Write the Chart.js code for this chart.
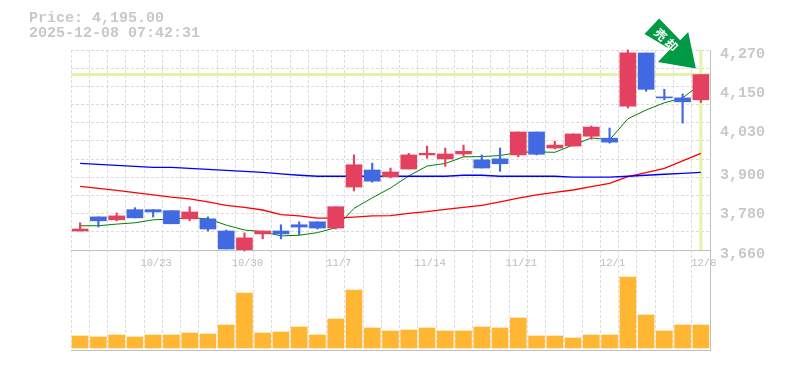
<!DOCTYPE html>
<html>
<head>
<meta charset="utf-8">
<script src="https://cdn.jsdelivr.net/npm/chart.js@4/dist/chart.umd.js"></script>
<style>
  html, body { margin: 0; padding: 0; background: #fff; }
  #wrap { position: relative; width: 785px; height: 370px; overflow: hidden; }
  canvas { position: absolute; left: 0; top: 0; }
  #title { position: absolute; left: 29px; top: 11px; font: bold 15px/15px "Liberation Mono", monospace; color: #c8c8c8; white-space: pre; }
</style>
</head>
<body>
<div id="wrap">
  <canvas id="vol-chart" width="785" height="370"></canvas>
  <canvas id="price-chart" width="785" height="370"></canvas>
  <div id="title">Price: 4,195.00
2025-12-08 07:42:31</div>
</div>
<script>
  const categories = ['10/17','10/20','10/21','10/22','10/23','10/24','10/27','10/28','10/29','10/30','10/31','11/4','11/5','11/6','11/7','11/10','11/11','11/12','11/13','11/14','11/17','11/18','11/19','11/20','11/21','11/25','11/26','11/27','11/28','12/1','12/2','12/3','12/4','12/5','12/8'];
  const tickLabels = ['10/23','10/30','11/7','11/14','11/21','12/1','12/8'];
  const priceTicks = [4270, 4150, 4030, 3900, 3780, 3660];
  const lastPrice = 4195;

  const opens  = [3718,3761,3752,3783,3783,3780,3755,3755,3718,3660,3709,3718,3737,3746,3727,3852,3904,3883,3907,3950,3938,3953,3935,3938,3950,4020,3971,3977,4007,4001,4099,4261,4127,4124,4118];
  const highs  = [3743,3761,3773,3789,3783,3780,3792,3761,3721,3712,3718,3737,3746,3746,3792,3950,3925,3910,3955,3977,3971,3980,3950,3971,4020,4020,3992,4014,4038,4032,4270,4261,4150,4136,4195];
  const lows   = [3718,3730,3749,3758,3761,3740,3749,3718,3663,3657,3694,3694,3706,3724,3724,3840,3867,3880,3907,3940,3915,3946,3910,3900,3944,3950,3968,3977,3998,3986,4093,4144,4118,4047,4110];
  const closes = [3724,3749,3764,3758,3776,3740,3776,3724,3663,3697,3718,3709,3730,3727,3792,3920,3870,3898,3950,3955,3953,3961,3910,3923,4020,3952,3980,4014,4035,3989,4261,4150,4124,4112,4195];

  const maShort = [3734,3734,3739,3743,3752,3754,3758,3755,3736,3721,3716,3703,3705,3713,3728,3787,3819,3849,3886,3916,3924,3944,3945,3948,3958,3959,3958,3980,4002,3996,4060,4087,4109,4124,4166];
  const maMid   = [3854,3848,3842,3835,3828,3821,3816,3807,3796,3790,3782,3768,3764,3757,3757,3760,3764,3765,3772,3777,3784,3790,3796,3807,3818,3828,3836,3843,3853,3863,3884,3896,3909,3932,3955];
  const maLong  = [3924,3921,3918,3915,3912,3912,3909,3906,3903,3900,3897,3892,3888,3885,3885,3885,3885,3885,3885,3885,3885,3888,3888,3885,3885,3885,3885,3882,3882,3882,3885,3888,3891,3894,3897];

  const volumes = [12,11,13,11,13,13,15,14,23,55,15,16,21,13,29,58,20,17,18,20,17,17,21,20,30,12,12,10,13,13,71,33,17,23,23];

  const RED = '#e4405f';
  const BLUE = '#4169e1';
  const GRID = '#dcdcdc';
  const AXIS = '#c0c0c0';
  const LABEL = '#c8c8c8';
  const candleColors = opens.map((o, i) => closes[i] >= o ? RED : BLUE);
  const priceMin = Math.min(...priceTicks);
  const priceMax = Math.max(...priceTicks);

  // dashed price grid has 11 equal bands, not tied to the labels
  const gridTicks = [];
  for (let i = 0; i <= 11; i++) gridTicks.push({ value: priceMin + (priceMax - priceMin) * i / 11 });

  const highlightPlugin = {
    id: 'highlight',
    beforeDatasetsDraw(chart) {
      const { ctx, chartArea, scales } = chart;
      const x = scales.x.getPixelForValue(categories.length - 1);
      const y = scales.y.getPixelForValue(lastPrice);
      ctx.save();
      ctx.strokeStyle = '#e5f3a9';
      ctx.lineWidth = 3;
      ctx.beginPath();
      ctx.moveTo(chartArea.left, y);
      ctx.lineTo(chartArea.right, y);
      ctx.moveTo(x, chartArea.top);
      ctx.lineTo(x, chartArea.bottom);
      ctx.stroke();
      ctx.restore();
    },
    afterDatasetsDraw(chart) {
      const { ctx, scales } = chart;
      const tipX = scales.x.getPixelForValue(categories.length - 1) - 5;
      const tipY = scales.y.getPixelForValue(lastPrice) - 6;
      const outline = [[-36.7,-50],[-51.4,-34.7],[-25.7,-19.4],[-38,-6.7],[0,0],[-7.7,-36.7],[-15.7,-28.4]];
      ctx.save();
      ctx.fillStyle = '#009944';
      ctx.beginPath();
      outline.forEach(([dx, dy], i) => {
        if (i === 0) ctx.moveTo(tipX + dx, tipY + dy);
        else ctx.lineTo(tipX + dx, tipY + dy);
      });
      ctx.closePath();
      ctx.fill();
      ctx.translate(tipX - 28.7, tipY - 27.7);
      ctx.rotate(Math.PI / 4);
      ctx.fillStyle = '#fff';
      ctx.font = 'bold 12px "Noto Sans CJK JP"';
      ctx.letterSpacing = '3px';
      ctx.textAlign = 'center';
      ctx.textBaseline = 'middle';
      ctx.fillText('売却', 0, 0);
      ctx.restore();
    }
  };

  function maLine(values, color, width) {
    return {
      type: 'line',
      data: values,
      borderColor: color,
      borderWidth: width,
      pointRadius: 0,
      tension: 0,
      fill: false,
      order: 2
    };
  }

  new Chart(document.getElementById('price-chart'), {
    data: {
      labels: categories,
      datasets: [
        { type: 'bar', data: opens.map((o, i) => [o, closes[i]]), backgroundColor: candleColors, barThickness: 16, grouped: false, order: 0 },
        { type: 'bar', data: lows.map((l, i) => [l, highs[i]]), backgroundColor: candleColors, barThickness: 1.5, grouped: false, order: 1, clip: false },
        maLine(maLong, '#0000ff', 1.3),
        maLine(maMid, '#ff0000', 1.3),
        maLine(maShort, '#008000', 1)
      ]
    },
    options: {
      responsive: false,
      animation: false,
      layout: { padding: { left: 71, top: 50, right: 0, bottom: 90 } },
      plugins: { legend: { display: false }, tooltip: { enabled: false } },
      scales: {
        x: {
          offset: true,
          afterFit: (s) => { s.height = 30; },
          grid: { offset: true, color: GRID, drawTicks: false },
          border: { display: true, color: AXIS, dash: [3, 2] },
          ticks: {
            autoSkip: false,
            maxRotation: 0,
            padding: 7,
            labelOffset: 3,
            color: '#bdbdbd',
            font: { family: '"Liberation Mono"', size: 10.5 },
            callback(value) {
              const label = categories[value];
              return tickLabels.includes(label) ? label : '';
            }
          }
        },
        y: {
          position: 'right',
          min: priceMin,
          max: priceMax,
          afterBuildTicks: (s) => { s.ticks = gridTicks.slice(); },
          afterFit: (s) => { s.width = 0; },
          grid: { color: GRID, drawTicks: false },
          border: { display: true, color: AXIS, dash: [3, 2] },
          ticks: { display: false }
        },
        yLabels: {
          position: 'right',
          min: priceMin,
          max: priceMax,
          afterBuildTicks: (s) => { s.ticks = priceTicks.map(value => ({ value })); },
          afterFit: (s) => { s.width = 75; },
          grid: { display: false, drawTicks: false },
          border: { display: false },
          ticks: {
            padding: 10,
            labelOffset: 4,
            color: LABEL,
            font: { family: '"Liberation Mono"', size: 15, weight: 'bold' },
            callback: (value) => Number(value).toLocaleString('en-US')
          }
        }
      }
    },
    plugins: [highlightPlugin]
  });

  new Chart(document.getElementById('vol-chart'), {
    type: 'bar',
    data: {
      labels: categories,
      datasets: [{ data: volumes, backgroundColor: '#ffb733', barThickness: 16 }]
    },
    options: {
      responsive: false,
      animation: false,
      layout: { padding: { left: 71, top: 250, right: 75, bottom: 20 } },
      plugins: { legend: { display: false }, tooltip: { enabled: false } },
      scales: {
        x: {
          afterFit: (s) => { s.height = 0; },
          grid: { offset: true, color: GRID, drawTicks: false },
          border: { display: true, color: AXIS, dash: [3, 2] },
          ticks: { display: false, autoSkip: false }
        },
        y: {
          position: 'right',
          min: -2,
          max: 98,
          afterFit: (s) => { s.width = 0; },
          grid: { display: false },
          border: { display: true, color: AXIS },
          ticks: { display: false }
        }
      }
    }
  });
</script>
</body>
</html>
